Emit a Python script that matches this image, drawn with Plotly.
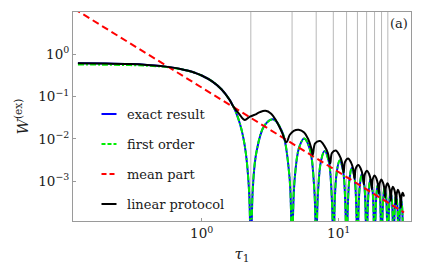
import plotly.graph_objects as go

# ---------------- data ----------------
plateau_tau = [0.125, 0.2, 0.3, 0.4, 0.5, 0.6, 0.7, 0.8, 0.9, 1.0, 1.2, 1.4, 1.6, 1.7,
               1.8, 1.9, 2.0, 2.1, 2.2, 2.25]
exact_plateau = [0.614, 0.604, 0.586, 0.560, 0.529, 0.491, 0.4505, 0.407, 0.3616, 0.3156,
                 0.2264, 0.1471, 0.0838, 0.0589, 0.0387, 0.02314, 0.01195, 0.0047, 0.00092, 0.00015]
first_plateau = [0.575, 0.568, 0.556, 0.538, 0.515, 0.484, 0.4475, 0.406, 0.3616, 0.3156,
                 0.2264, 0.1471, 0.0838, 0.0589, 0.0387, 0.02314, 0.01195, 0.0047, 0.00092, 0.00015]

lobe_tau = [2.285, 2.354, 2.514, 2.856, 3.313, 3.885, 4.342, 4.501,
            4.57, 4.639, 4.799, 5.141, 5.598, 6.170, 6.627, 6.786,
            6.855, 6.924, 7.084, 7.426, 7.883, 8.455, 8.912, 9.071,
            9.14, 9.369, 9.711, 10.168, 10.740, 11.197,
            11.425, 11.654, 11.996, 12.453, 13.025, 13.482,
            13.71, 13.939, 14.281, 14.738, 15.310, 15.767,
            15.995, 16.224, 16.566, 17.023, 17.595, 18.052,
            18.28, 18.509, 18.851, 19.308, 19.880, 20.337,
            20.565, 20.794, 21.136, 21.593, 22.165, 22.622,
            22.85, 23.079, 23.421, 23.878, 24.450, 24.907,
            25.135, 25.364, 25.706, 26.163, 26.735, 27.192,
            27.42, 27.649, 27.991, 28.448, 29.020, 29.477,
            29.705, 30.0]
lobe_val = [1e-9, 0.000524, 0.00496, 0.0201, 0.02914, 0.01422, 0.00166, 0.000143,
            1e-9, 0.000135, 0.00136, 0.0062, 0.01021, 0.00564, 0.000713, 0.000063,
            1e-9, 0.0000606, 0.000624, 0.00297, 0.00515, 0.003, 0.000394, 0.0000353,
            1e-9, 0.000357, 0.00174, 0.00309, 0.00186, 0.00025,
            1e-9, 0.000231, 0.00114, 0.00206, 0.00127, 0.000172,
            1e-9, 0.000161, 0.000804, 0.00147, 0.000916, 0.000126,
            1e-9, 0.000119, 0.000597, 0.0011, 0.000693, 0.0000961,
            1e-9, 0.0000914, 0.000461, 0.000858, 0.000543, 0.0000757,
            1e-9, 0.0000725, 0.000367, 0.000686, 0.000437, 0.0000612,
            1e-9, 0.0000588, 0.000299, 0.000561, 0.000359, 0.0000505,
            1e-9, 0.0000487, 0.000248, 0.000467, 0.0003, 0.0000424,
            1e-9, 0.000041, 0.000209, 0.000395, 0.000255, 0.0000361,
            1e-9, 0.0000566]

mean_tau = [0.1, 30.0]
mean_val = [16.4, 0.000182]

linear_tau = [0.125, 0.2, 0.3, 0.4, 0.5, 0.6, 0.7, 0.8, 0.9, 1.0, 1.2, 1.4, 1.6, 1.7,
              1.8, 1.9, 2.0, 2.07, 2.25, 2.45, 2.66, 2.92, 3.2, 3.5, 3.85,
              4.15, 4.4, 4.7, 5.1, 5.6, 6.0, 6.3,
              6.47, 6.734, 7.32, 7.9, 8.34,
              8.67, 8.934, 9.52, 10.1, 10.54,
              10.87, 11.134, 11.72, 12.3, 12.74,
              13.07, 13.334, 13.92, 14.5, 14.94,
              15.27, 15.534, 16.12, 16.7, 17.14,
              17.47, 17.734, 18.32, 18.9, 19.34,
              19.67, 19.934, 20.52, 21.1, 21.54,
              21.87, 22.134, 22.72, 23.3, 23.74,
              24.07, 24.334, 24.92, 25.5, 25.94,
              26.27, 26.534, 27.12, 27.7, 28.14,
              28.47, 28.734, 29.32, 30.0]
linear_val = [0.614, 0.604, 0.586, 0.560, 0.529, 0.491, 0.4505, 0.407, 0.3616, 0.3156,
              0.2264, 0.1471, 0.0838, 0.0589,
              0.046, 0.037, 0.030, 0.028, 0.0335, 0.0375, 0.043, 0.046, 0.040, 0.027, 0.0145,
              0.0083, 0.0125, 0.0155, 0.0165, 0.0142, 0.0098, 0.0062,
              0.0042, 0.00785, 0.00888, 0.00665, 0.00464,
              0.00262, 0.00462, 0.00534, 0.00418, 0.00294,
              0.0016, 0.00287, 0.00346, 0.00278, 0.00199,
              0.00115, 0.00202, 0.00241, 0.00197, 0.00143,
              0.000844, 0.00147, 0.00177, 0.00146, 0.00107,
              0.000645, 0.00113, 0.00137, 0.00114, 0.000842,
              0.000509, 0.000891, 0.00109, 0.000914, 0.000679,
              0.000411, 0.000723, 0.00089, 0.000749, 0.000559,
              0.00034, 0.000598, 0.00074, 0.000625, 0.000468,
              0.000285, 0.000503, 0.000624, 0.00053, 0.000398,
              0.000243, 0.000429, 0.000534, 0.000437]

zero_tau = [2.285, 4.57, 6.855, 9.14, 11.425, 13.71, 15.995, 18.28, 20.565, 22.85]

series_names = ["exact result", "first order", "mean part", "linear protocol"]
x_tickvals = [1, 10]
x_ticktext = ["10<sup>0</sup>", "10<sup>1</sup>"]
y_tickvals = [1e-3, 1e-2, 1e-1, 1]
y_ticktext = ["10<sup>\u22123</sup>", "10<sup>\u22122</sup>", "10<sup>\u22121</sup>", "10<sup>0</sup>"]

# ---------------- figure ----------------
tau_all = plateau_tau + lobe_tau
exact_val = exact_plateau + lobe_val
first_val = first_plateau + lobe_val

vx, vy = [], []
for z in zero_tau:
    vx += [z, z, None]
    vy += [1e-6, 1e3, None]

FONT = "DejaVu Serif"
TXT = "#1a1a1a"

fig = go.Figure()
fig.add_trace(go.Scatter(x=vx, y=vy, mode="lines", line=dict(color="#b8b8b8", width=1),
                         showlegend=False, hoverinfo="skip"))
fig.add_trace(go.Scatter(x=tau_all, y=exact_val, mode="lines", name=series_names[0],
                         line=dict(color="#0000ff", width=2, shape="spline"), showlegend=False))
fig.add_trace(go.Scatter(x=tau_all, y=first_val, mode="lines", name=series_names[1],
                         line=dict(color="#00ee00", width=2, shape="spline", dash="6px,2px,2px,2px"),
                         showlegend=False))
fig.add_trace(go.Scatter(x=mean_tau, y=mean_val, mode="lines", name=series_names[2],
                         line=dict(color="#ff0000", width=2, dash="7px,4px"), showlegend=False))
fig.add_trace(go.Scatter(x=linear_tau, y=linear_val, mode="lines", name=series_names[3],
                         line=dict(color="#000000", width=2, shape="spline"), showlegend=False))

# page has an 8px body margin: figure is 428x268 placed at (8,8)
OFF = 8
FIG_W, FIG_H = 436 - OFF, 276 - OFF
# plot area in window pixels: x 73..411, y 12..221
L, R, T, B = 73, 411, 12, 221
W, H = R - L, B - T
def px(x):
    return (x - L) / W
def py(y):
    return (B - y) / H

legend_rows = [114, 144, 174, 204]
legend_styles = [
    dict(color="#0000ff", width=2, dash="solid"),
    dict(color="#00ee00", width=2, dash="4px,2px,4px,2px"),
    dict(color="#ff0000", width=2, dash="5px,3px"),
    dict(color="#000000", width=2, dash="solid"),
]
shapes = []
annotations = []
for name, row, st in zip(series_names, legend_rows, legend_styles):
    shapes.append(dict(type="line", xref="paper", yref="paper", x0=px(101.5), x1=px(116.5),
                       y0=py(row), y1=py(row), line=st))
    annotations.append(dict(xref="paper", yref="paper", x=px(124.5), y=py(row), text=name,
                            showarrow=False, xanchor="left", yanchor="middle",
                            font=dict(family=FONT, size=13, color=TXT)))
annotations.append(dict(xref="paper", yref="paper", x=px(410), y=py(24), text="(a)",
                        showarrow=False, xanchor="right", yanchor="middle",
                        font=dict(family=FONT, size=13, color=TXT)))

axis_common = dict(showline=True, mirror=True, linecolor="#9a9a9a", linewidth=1,
                   ticks="inside", ticklen=3, tickcolor="#9a9a9a", showgrid=False,
                   zeroline=False, automargin=False,
                   tickfont=dict(family=FONT, size=13.5, color=TXT))

fig.update_layout(
    template="none",
    width=FIG_W, height=FIG_H,
    margin=dict(l=L - OFF, r=436 - R, t=T - OFF, b=276 - B, pad=0),
    paper_bgcolor="white", plot_bgcolor="white",
    font=dict(family=FONT, size=13, color=TXT),
    shapes=shapes, annotations=annotations,
    xaxis=dict(type="log", range=[-0.939, 1.528], tickvals=x_tickvals, ticktext=x_ticktext,
               title=dict(text="<i>\u03c4</i><sub>1</sub>", font=dict(family=FONT, size=15, color=TXT),
                          standoff=8),
               **axis_common),
    yaxis=dict(type="log", range=[-3.941, 1.0], tickvals=y_tickvals, ticktext=y_ticktext,
               title=dict(text="<i>W</i><sup>(ex)</sup>", font=dict(family=FONT, size=15, color=TXT),
                          standoff=5),
               **axis_common),
)

fig.write_html("out.html")
